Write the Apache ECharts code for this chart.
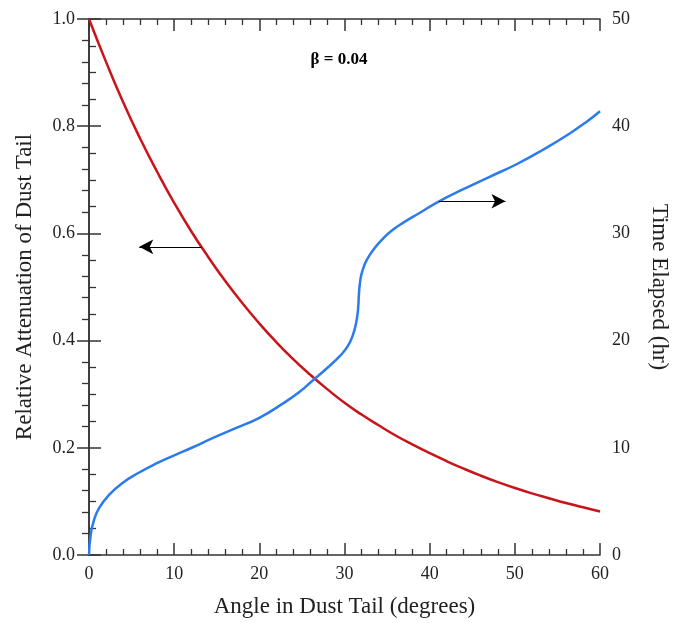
<!DOCTYPE html>
<html>
<head>
<meta charset="utf-8">
<script src="https://cdn.jsdelivr.net/npm/echarts@6/dist/echarts.min.js"></script>
<style>html,body{margin:0;padding:0;background:#fff;}#c{width:688px;height:623px;}</style>
</head>
<body>
<div id="c"></div>
<script>
// Attenuation (left axis) vs angle
const redAngles = [0,2,4,6,8,10,12,14,16,18,20,22,24,26,28,30,32,34,36,38,40,42,44,46,48,50,52,54,56,58,60];
const attenuation = [1.0,0.92,0.845,0.777,0.715,0.657,0.604,0.556,0.511,0.47,0.432,0.397,0.365,0.336,0.309,0.284,0.262,0.242,0.223,0.206,0.19,0.175,0.161,0.148,0.136,0.125,0.115,0.106,0.097,0.089,0.081];
// Time elapsed (right axis) vs angle
const blueAngles = [0,0.2,0.6,1.2,2.35,3.9,5.9,7.8,10,12.2,14.5,17.3,20,22.7,24.7,26.3,27.9,29.5,30.4,31.0,31.4,31.6,31.7,31.85,32.1,32.6,33.5,34.5,35.6,36.9,38.9,41.0,43.9,47.1,50.2,53.3,56.4,58.4,60];
const timeElapsed = [0,1.9,3.3,4.4,5.6,6.7,7.7,8.5,9.3,10.05,10.9,11.85,12.8,14.1,15.2,16.3,17.4,18.6,19.5,20.55,21.8,23.0,24.4,25.6,26.5,27.5,28.6,29.5,30.3,31.0,31.95,32.95,34.1,35.3,36.45,37.8,39.3,40.4,41.4];
// Annotation arrows (data units)
const leftArrow = [[13.2,0.575],[5.9,0.575]];
const rightArrow = [[41.1,33.0],[48.9,33.0]];
const xTicks = [0,10,20,30,40,50,60];
const annotation = 'β = 0.04';

const FONT = '"Liberation Serif", "DejaVu Serif", serif';
const AX = '#333';
const chart = echarts.init(document.getElementById('c'), null, {renderer:'canvas'});
const lineStyleAx = {color: AX, width: 1.5};
const baseX = {
  type:'value', min:0, max:60, interval:10,
  axisLine:{show:true, onZero:false, lineStyle:lineStyleAx},
  axisTick:{show:true, inside:true, length:12, lineStyle:lineStyleAx},
  minorTick:{show:true, splitNumber:5, length:6, lineStyle:{color:AX, width:1.3}},
  splitLine:{show:false}
};
chart.setOption({
  animation:false,
  backgroundColor:'#fff',
  grid:{left:89, right:88, top:19, bottom:66, containLabel:false},
  graphic:[{type:'text', x:339, y:60, style:{text:annotation, font:'bold 17px '+FONT, fill:'#000', textAlign:'center', textVerticalAlign:'middle'}}],
  xAxis:[
    Object.assign({}, baseX, {
      position:'bottom',
      name:'Angle in Dust Tail (degrees)', nameLocation:'middle', nameGap:40,
      nameTextStyle:{fontFamily:FONT, fontSize:23, color:'#222'},
      axisLabel:{show:true, fontFamily:FONT, fontSize:18, color:'#222', margin:10,
        formatter:v => xTicks.includes(v) ? String(v) : ''}
    }),
    Object.assign({}, baseX, {position:'top', axisLabel:{show:false}})
  ],
  yAxis:[
    {type:'value', min:0, max:1, interval:0.2, position:'left',
     name:'Relative Attenuation of Dust Tail', nameLocation:'middle', nameGap:53, nameRotate:90,
     nameTextStyle:{fontFamily:FONT, fontSize:23, color:'#222'},
     axisLine:{show:true, lineStyle:lineStyleAx},
     axisTick:{show:true, inside:true, length:12, lineStyle:lineStyleAx},
     minorTick:{show:true, splitNumber:4, length:7, lineStyle:{color:AX, width:1.3}},
     splitLine:{show:false},
     axisLabel:{fontFamily:FONT, fontSize:18, color:'#222', margin:14, formatter:v => v.toFixed(1)}},
    {type:'value', min:0, max:50, interval:10, position:'right',
     name:'Time Elapsed (hr)', nameLocation:'middle', nameGap:48, nameRotate:-90,
     nameTextStyle:{fontFamily:FONT, fontSize:23, color:'#222'},
     axisLine:{show:true, lineStyle:lineStyleAx},
     axisTick:{show:true, inside:true, length:12, lineStyle:lineStyleAx},
     minorTick:{show:true, splitNumber:5, length:7, lineStyle:{color:AX, width:1.3}},
     splitLine:{show:false},
     axisLabel:{fontFamily:FONT, fontSize:18, color:'#222', margin:12}}
  ],
  series:[
    {type:'line', xAxisIndex:0, yAxisIndex:0, showSymbol:false, smooth:true,
     lineStyle:{color:'#c8141a', width:2.5}, itemStyle:{color:'#c8141a'},
     data: redAngles.map((a,i)=>[a, attenuation[i]]),
     markLine:{silent:true, symbol:['none','arrow'], symbolSize:[11,14], label:{show:false},
       lineStyle:{color:'#000', width:1.2, type:'solid'},
       data:[[{coord:leftArrow[0]},{coord:leftArrow[1]}]]}},
    {type:'line', xAxisIndex:0, yAxisIndex:1, showSymbol:false, smooth:0.5,
     lineStyle:{color:'#2b7bed', width:2.5}, itemStyle:{color:'#2b7bed'},
     data: blueAngles.map((a,i)=>[a, timeElapsed[i]]),
     markLine:{silent:true, symbol:['none','arrow'], symbolSize:[11,14], label:{show:false},
       lineStyle:{color:'#000', width:1.2, type:'solid'},
       data:[[{coord:rightArrow[0]},{coord:rightArrow[1]}]]}}
  ]
});
</script>
</body>
</html>
